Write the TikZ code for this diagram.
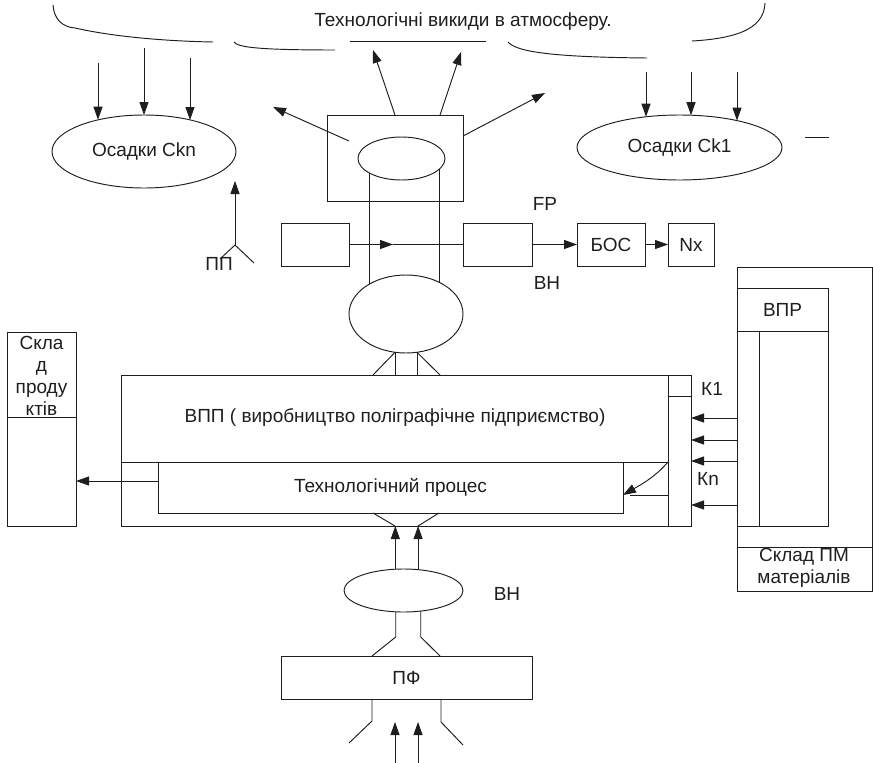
\documentclass[tikz,border=0pt]{standalone}
\usepackage{fontspec}
\setmainfont{Liberation Sans}
\usetikzlibrary{shapes.geometric,arrows.meta,calc}
\definecolor{ink}{RGB}{30,30,30}
\begin{document}
\begin{tikzpicture}[x=1pt,y=-1pt,
  ln/.style={line width=0.95pt, draw=ink},
  arr/.style={ln, -{Triangle[length=13pt,width=9pt]}},
  box/.style={ln, rectangle, inner sep=0pt, outer sep=0pt, font=\fontsize{19}{22}\selectfont, text=ink},
  oval/.style={ln, ellipse, inner sep=0pt, outer sep=0pt, font=\fontsize{19}{22}\selectfont, text=ink},
  lbl/.style={font=\fontsize{19}{22}\selectfont, text=ink, inner sep=0pt, outer sep=0pt}]
\useasboundingbox (0,0) rectangle (873,763);

% emission cloud
\draw[ln] (53,5) .. controls (54,19) and (62,27) .. (75,28)
          .. controls (110,36) and (160,41) .. (213,42);
\draw[ln] (234,42) .. controls (238,47) and (255,50) .. (335,50);
\draw[ln] (350,41) -- (486,41);
\draw[ln] (508,42) .. controls (516,51) and (545,57) .. (647,58);
\draw[ln] (692,41) .. controls (745,38) and (764,25) .. (765,3);
\node[lbl] (emtitle) at (463,22) {Технологічні викиди в атмосферу.};

% deposits
\node[oval, minimum width=184pt, minimum height=73pt] (ckn) at (144,151.5) {Осадки Ckn};
\node[oval, minimum width=205pt, minimum height=65pt] (ck1) at (679.5,147.5) {Осадки Ck1};
\coordinate (cknA) at (98,63);
\coordinate (cknB) at (144,48);
\coordinate (cknC) at (190,58);
\draw[arr] (cknA) -- (cknA |- ckn.145.5);
\draw[arr] (cknB) -- (ckn.north);
\draw[arr] (cknC) -- (cknC |- ckn.34.5);
\coordinate (ck1A) at (646,72);
\coordinate (ck1B) at (691,72);
\coordinate (ck1C) at (737,72);
\draw[arr] (ck1A) -- (ck1A |- ck1.137.5);
\draw[arr] (ck1B) -- (ck1B |- ck1.70.4);
\draw[arr] (ck1C) -- (ck1C |- ck1.25.1);
\coordinate (dashA) at (805,137);
\coordinate (dashB) at (829,137);
\draw[ln] (dashA) -- (dashB);

% emission source
\node[box, minimum width=136pt, minimum height=86pt] (emit) at (395,158) {};
\node[oval, minimum width=87pt, minimum height=43pt] (emitell) at (401.5,158.5) {};
\coordinate (eIn) at (349,141);
\coordinate (eOutL) at (273,107);
\coordinate (eTopL) at (395,115);
\coordinate (eUpL) at (373,50);
\coordinate (eTopR) at (440,115);
\coordinate (eUpR) at (461,52);
\coordinate (eSide) at (463,136);
\coordinate (eOutR) at (545,93);
\draw[arr] (eIn) -- (eOutL);
\draw[arr] (eTopL) -- (eUpL);
\draw[arr] (eTopR) -- (eUpR);
\draw[arr] (eSide) -- (eOutR);

% air cleaning line
\node[box, minimum width=68pt, minimum height=43pt] (lbox) at (315,244.5) {};
\node[box, minimum width=69pt, minimum height=43pt] (rbox) at (497.5,244.5) {};
\node[box, minimum width=68pt, minimum height=43pt] (bos) at (611,244.5) {БОС};
\node[box, minimum width=46pt, minimum height=43pt] (nx) at (691,244.5) {Nx};
\coordinate (flowMid) at (393,244.5);
\draw[arr] (lbox.east) -- (flowMid);
\draw[ln] (flowMid) -- (rbox.west);
\draw[arr] (rbox.east) -- (bos.west);
\draw[arr] (bos.east) -- (nx.west);
\node[lbl] (fp) at (545,204) {FP};
\node[lbl] (vnTop) at (547,283) {ВН};

% collector under the source
\node[oval, minimum width=114pt, minimum height=78pt] (bigell) at (406,314) {};
\draw[ln] (emitell.205.2) -- (emitell.205.2 |- bigell.140);
\draw[ln] (emitell.345.4) -- (emitell.345.4 |- bigell.42.6);

% ПП symbol
\coordinate (pp) at (235,245);
\coordinate (ppTip) at (235,181);
\coordinate (ppL) at (220,259);
\coordinate (ppR) at (254,263);
\draw[arr] (pp) -- (ppTip);
\draw[ln] (ppL) -- (pp) -- (ppR);
\node[lbl] (pptext) at (219,264) {ПП};

% enterprise
\node[box, minimum width=570pt, minimum height=151pt] (main) at (406,450.5) {};
\node[lbl] (mainText) at (395,417) {ВПП ( виробництво поліграфічне підприємство)};
\draw[ln] (121,462) -- (668,462);
\draw[ln] (668,375) -- (668,526);
\draw[ln] (668,396) -- (691,396);
\node[box, minimum width=465pt, minimum height=51pt] (proc) at (390.5,487.5) {Технологічний процес};

% ducts between collector and enterprise
\coordinate (bA) at (bigell.254);
\coordinate (bB) at (bigell.286);
\draw[ln] (bA) -- (bA |- main.north);
\draw[ln] (bB) -- (bB |- main.north);
\draw[ln] (bA) -- (373,375);
\draw[ln] (bB) -- (440,375);

% material inputs
\node[box, minimum width=135pt, minimum height=324pt] (vprOuter) at (804.5,429) {};
\node[box, minimum width=91pt, minimum height=43pt] (vprHead) at (782.5,309.5) {ВПР};
\node[box, minimum width=91pt, minimum height=195pt] (vprBody) at (782.5,428.5) {};
\draw[ln] (759,331) -- (759,526);
\draw[ln] (737,547) -- (872,547);
\node[lbl, align=center] (pmText) at (804,568) {Склад ПМ\\матеріалів};
\foreach \yy in {418,440,461,505}
  \draw[arr] (vprOuter.west |- 0,\yy) -- (main.east |- 0,\yy);
\node[lbl] (k1) at (712,389) {К1};
\node[lbl] (kn) at (708,479) {Кn};

% feed into the process
\coordinate (feedCorner) at (668,462);
\coordinate (feedTip) at (623,495);
\draw[arr] (feedCorner) .. controls (655,477) and (642,484) .. (feedTip);
\draw[ln] (668,495) -- (630,495);

% product store
\node[box, minimum width=69pt, minimum height=194pt] (sklad) at (41.5,429) {};
\draw[ln] (7,417) -- (76,417);
\node[lbl, align=center] (skladText) at (41.5,376) {Скла\\д\\проду\\ктів};
\coordinate (procOut) at (158,481);
\draw[arr] (procOut) -- (sklad.east |- procOut);

% supply from below
\draw[ln] (373,513) -- (395,526);
\draw[ln] (439,513) -- (418,526);
\node[oval, minimum width=119pt, minimum height=43pt] (lowell) at (403.5,590.5) {};
\draw[arr] (lowell.111.8) -- (lowell.111.8 |- main.south);
\draw[arr] (lowell.55.2) -- (lowell.55.2 |- main.south);
\node[lbl] (vnLow) at (507,594) {ВН};
\node[box, minimum width=251pt, minimum height=43pt] (pf) at (406.5,677.5) {ПФ};
\coordinate (lA) at (lowell.250.6);
\coordinate (lB) at (lowell.310.4);
\draw[ln] (lA) -- (lA |- 0,637) -- (372,656);
\draw[ln] (lB) -- (lB |- 0,637) -- (440,656);
\draw[ln] (372,699) -- (372,721) -- (349,743);
\draw[ln] (441,699) -- (441,722) -- (463,745);
\coordinate (inA) at (395,763);
\coordinate (inB) at (418,763);
\draw[arr] (inA) -- (395,722);
\draw[arr] (inB) -- (418,722);
\end{tikzpicture}
\end{document}
